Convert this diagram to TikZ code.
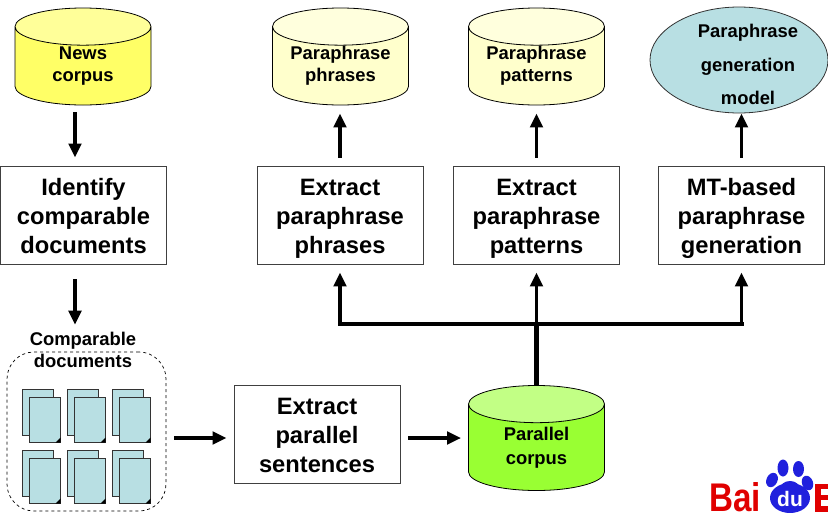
\documentclass[tikz,border=0pt]{standalone}
\usepackage{fontspec}
\setmainfont{Liberation Sans}
\usetikzlibrary{shapes.geometric,arrows.meta}
\newcommand{\boxlines}[3]{\rule{0pt}{26pt}#1\\#2\\#3\rule[-8pt]{0pt}{8pt}}
\newcommand{\storelines}[2]{\makebox[101pt]{\rule{0pt}{13.2pt}#1}\\\makebox[101pt]{#2\rule[-3.9pt]{0pt}{3.9pt}}}
\tikzset{
  x=1pt,y=-1pt,
  procbox/.style={draw=black!75,line width=0.9pt,fill=white,minimum width=166pt,minimum height=98pt,inner sep=0pt,align=center,font=\fontsize{23.7}{29}\selectfont\bfseries},
  store/.style={shape=cylinder,shape border rotate=90,aspect=0.368,draw=black,line width=0.8pt,cylinder uses custom fill,minimum width=136pt,minimum height=97pt,inner sep=0pt,align=center,anchor=shape center,font=\fontsize{18.4}{21.5}\selectfont\bfseries},
  small/.style={inner sep=0pt,align=center,font=\fontsize{18.4}{22}\selectfont\bfseries},
  arr/.style={-{Triangle[width=12.5pt,length=14pt]},line width=3.4pt,black},
  sheet/.style={draw=black!80,line width=0.8pt,fill=sheetblue},
}
\definecolor{sheetblue}{HTML}{B8DFE3}
\definecolor{newsbody}{HTML}{FFFF66}
\definecolor{newstop}{HTML}{FFFF99}
\definecolor{palebody}{HTML}{FFFFCC}
\definecolor{paletop}{HTML}{FFFFDD}
\definecolor{greenbody}{HTML}{99FF33}
\definecolor{greentop}{HTML}{C2FF85}
\definecolor{logored}{HTML}{E00000}
\definecolor{logoblue}{HTML}{2020DD}
\begin{document}
\begin{tikzpicture}
\useasboundingbox (0,0) rectangle (828,512);
\clip (0,0) rectangle (828,512);
% stores
\node[store,cylinder body fill=newsbody,cylinder end fill=newstop] (news) at (83,56.5) {\storelines{News}{corpus}};
\node[store,cylinder body fill=palebody,cylinder end fill=paletop] (cphr) at (340.5,56.5) {\storelines{Paraphrase}{phrases}};
\node[store,cylinder body fill=palebody,cylinder end fill=paletop] (cpat) at (536.5,56.5) {\storelines{Paraphrase}{patterns}};
\node[store,minimum height=105pt,cylinder body fill=greenbody,cylinder end fill=greentop,font=\fontsize{18.4}{24}\selectfont\bfseries] (par) at (536.5,438) {\storelines{Parallel}{corpus}};
\node[draw=black!80,line width=0.8pt,fill=sheetblue,shape=ellipse,minimum width=178pt,minimum height=106pt,inner sep=0pt] (model) at (739,60) {};
\node[small,font=\fontsize{18.4}{33.5}\selectfont\bfseries] (modeltext) at (748,64.5) {Paraphrase\\generation\\model};
% boxes
\node[procbox] (identify) at (83.5,215) {\boxlines{Identify}{comparable}{documents}};
\node[procbox] (ephr) at (340,215) {\boxlines{Extract}{paraphrase}{phrases}};
\node[procbox] (epat) at (536.5,215) {\boxlines{Extract}{paraphrase}{patterns}};
\node[procbox] (emt) at (741.5,215) {\boxlines{MT-based}{paraphrase}{generation}};
\node[procbox] (epar) at (317,434) {\boxlines{Extract}{parallel}{sentences}};
% comparable documents group
\node[draw=black,dashed,line width=0.7pt,rounded corners=27pt,minimum width=159pt,minimum height=159pt,inner sep=0pt] (group) at (86.5,431.5) {};
\node[small] (grouptext) at (83,350) {Comparable\\documents};
\foreach \cx in {0,45,90}{
  \foreach \cy in {0,61}{
    \begin{scope}[shift={(\cx,\cy)}]
      \draw[sheet] (22,389) rectangle (53,435);
      \draw[sheet] (29.5,397) rectangle (60.5,442.5);
      \fill[black] (60.5,437.5) -- (60.5,442.5) -- (55.5,442.5) -- cycle;
    \end{scope}
  }
}
% connectors
\draw[arr,shorten <=7pt,shorten >=8pt] ([xshift=-8pt]news.south) -- ([xshift=-8.5pt]identify.north);
\draw[arr,shorten <=15pt,shorten >=27pt] ([xshift=-8.5pt]identify.south) -- ([xshift=-11.5pt]group.north);
\draw[arr,shorten <=8pt,shorten >=7pt] (group.east) ++(0,6.5) coordinate (g1) (g1) -- (epar.west |- g1);
\draw[arr,shorten <=8pt,shorten >=7pt] (epar.east) ++(0,4) coordinate (p1) (p1) -- (par.west |- p1);
\draw[arr,shorten <=8pt,shorten >=8pt] (ephr.north) -- (ephr.north |- cphr.south);
\draw[arr,shorten <=8pt,shorten >=8pt] (epat.north) -- (cpat.south);
\draw[arr,shorten <=8pt] (emt.north) -- (model.south -| emt.north);
\coordinate (hub) at (par.north |- 0,324);
\draw[line width=4.5pt] (par.north) -- (hub);
\draw[line width=4.5pt,line cap=rect] (ephr.south |- hub) -- (emt.south |- hub);
\draw[arr,shorten >=8pt] (hub) -- (epat.south);
\draw[arr,shorten >=8pt] (ephr.south |- hub) -- (ephr.south);
\draw[arr,shorten >=8pt] (emt.south |- hub) -- (emt.south);
% logo
\node[anchor=base west,inner sep=0pt,text=logored,font=\fontsize{40}{40}\selectfont\bfseries,xscale=0.83] (bai) at (709,511) {Bai};
\fill[logoblue] (783,468) ellipse [x radius=5.5,y radius=8.5];
\fill[logoblue] (798.5,469) ellipse [x radius=5.5,y radius=8];
\fill[logoblue,rotate around={-25:(772,480)}] (772,480) ellipse [x radius=5.5,y radius=7.5];
\fill[logoblue,rotate around={20:(807.5,483)}] (807.5,483) ellipse [x radius=5.5,y radius=7.5];
\fill[logoblue] (790,498) ellipse [x radius=20,y radius=15];
\fill[logoblue] (790,489) ellipse [x radius=10,y radius=8];
\node[inner sep=0pt,text=white,font=\fontsize{21}{21}\selectfont\bfseries] (du) at (790,499) {du};
\fill[logored] (815,484) rectangle (828,489);
\fill[logored] (815,484) rectangle (821,512);
\fill[logored] (815,495) rectangle (828,500);
\fill[logored] (815,506) rectangle (828,512);
\end{tikzpicture}
\end{document}
